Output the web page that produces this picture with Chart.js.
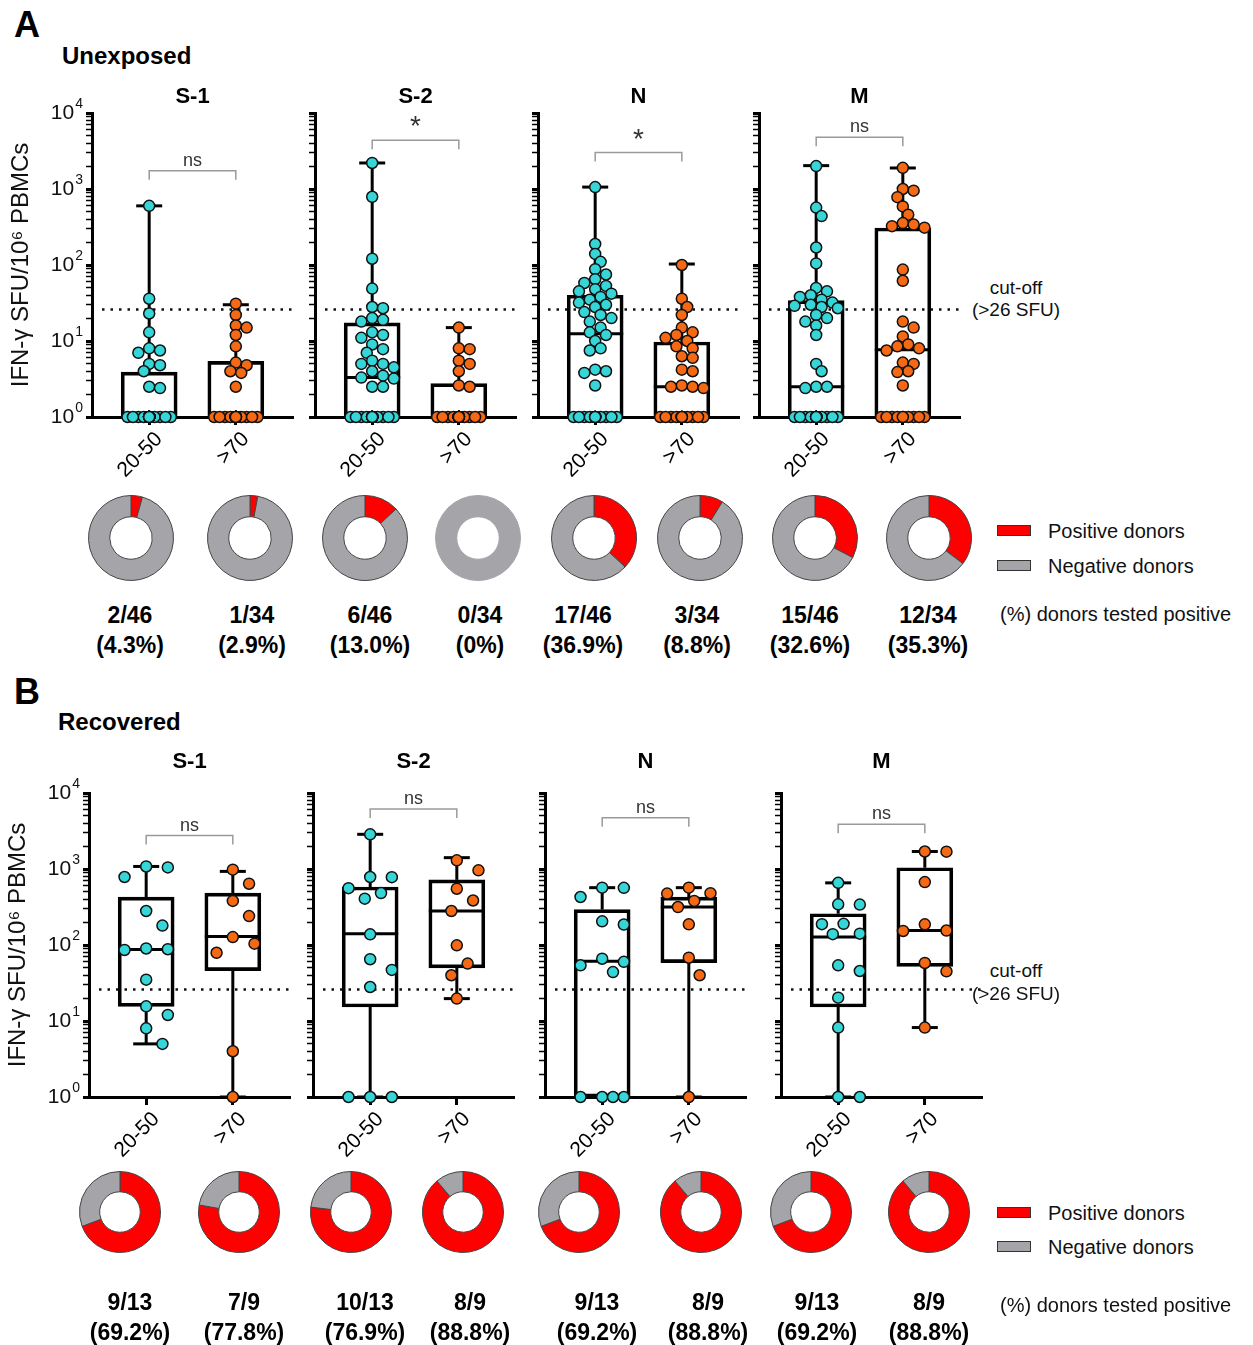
<!DOCTYPE html>
<html>
<head>
<meta charset="utf-8">
<script src="https://cdn.jsdelivr.net/npm/chart.js@4.4.1/dist/chart.umd.min.js"></script>
<style>
  html, body { margin: 0; padding: 0; background: #fff; }
  body { width: 1253px; height: 1345px; position: relative; overflow: hidden; }
  canvas { position: absolute; }
  .t { position: absolute; line-height: 1; white-space: nowrap; color: #111;
       font-family: 'Liberation Sans', Arial, sans-serif; }
  .key { position: absolute; width: 32px; height: 9px; border: 1.5px solid #333; }
</style>
</head>
<body>
<script>
const FONT = "'Liberation Sans', Arial, sans-serif";
Chart.defaults.font.family = FONT;
Chart.defaults.color = '#111';
Chart.defaults.animation = false;

// ── DATA ──────────────────────────────────────────────────────────────
const antigens = ['S-1', 'S-2', 'N', 'M'];
const ageGroups = ['20-50', '>70'];
const yDecades = [1, 10, 100, 1000, 10000];
const yDecadeExp = ['0', '1', '2', '3', '4'];
const cutOff = 26;

// A – unexposed donors, IFN-γ SFU/10^6 PBMCs (non-responders plotted at 1)
const unexS1Young = [600, 36, 23, 13, 8, 7.5, 7, 5, 4.8, 4, 2.5, 2.4,
  1, 1, 1, 1, 1, 1, 1, 1, 1, 1, 1, 1, 1, 1, 1, 1, 1, 1, 1, 1, 1, 1, 1, 1, 1, 1, 1, 1, 1, 1, 1, 1, 1, 1];
const unexS1Old = [31, 22, 16, 15, 12, 8.5, 5.2, 4.8, 4, 3.8, 2.5,
  1, 1, 1, 1, 1, 1, 1, 1, 1, 1, 1, 1, 1, 1, 1, 1, 1, 1, 1, 1, 1, 1, 1];
const unexS2Young = [2200, 790, 121, 49, 28, 27, 20, 19, 18, 13, 12, 11, 9, 7.8, 7, 5.5, 5, 5, 4.5, 4, 3.5, 3.3, 3.2, 2.5, 2.5,
  1, 1, 1, 1, 1, 1, 1, 1, 1, 1, 1, 1, 1, 1, 1, 1, 1, 1, 1, 1, 1];
const unexS2Old = [15, 8, 7.8, 5.5, 5, 4, 2.6, 2.5,
  1, 1, 1, 1, 1, 1, 1, 1, 1, 1, 1, 1, 1, 1, 1, 1, 1, 1, 1, 1, 1, 1, 1, 1, 1, 1];
const unexNYoung = [1060, 189, 140, 110, 88, 75, 65, 58, 53, 48, 45, 42, 38, 35, 32, 30, 28, 24, 22, 20, 18, 15, 13, 12, 10, 8, 7.5, 4.2, 4, 3.8, 2.6,
  1, 1, 1, 1, 1, 1, 1, 1, 1, 1, 1, 1, 1, 1, 1];
const unexNOld = [100, 36, 28, 22, 15, 13, 12, 11, 10, 8.5, 8, 6.3, 6, 4.2, 4, 2.6, 2.5, 2.5, 2.4,
  1, 1, 1, 1, 1, 1, 1, 1, 1, 1, 1, 1, 1, 1, 1];
const unexMYoung = [2000, 570, 440, 170, 105, 50, 45, 40, 38, 35, 32, 30, 29, 28, 27, 22, 20, 18, 16, 12, 5, 4, 2.5, 2.5, 2.4,
  1, 1, 1, 1, 1, 1, 1, 1, 1, 1, 1, 1, 1, 1, 1, 1, 1, 1, 1, 1, 1];
const unexMOld = [1900, 1000, 950, 780, 590, 460, 356, 340, 324, 310, 87, 62, 18, 15, 11.5, 9, 8.5, 8, 7.5, 5.2, 5, 4, 3.9, 2.6,
  1, 1, 1, 1, 1, 1, 1, 1, 1, 1];
// box stats [min, Q1, median, Q3, max] for S-1, S-2, N, M
const unexBoxYoung = [[1, 1, 1, 3.9, 600], [1, 1, 3.3, 17.3, 2200], [1, 1, 12.5, 40, 1060], [1, 1, 2.5, 34, 2030]];
const unexBoxOld = [[1, 1, 1, 5.4, 30], [1, 1, 1, 2.75, 15], [1, 1, 2.5, 9.7, 103], [1, 1, 7.7, 307, 1890]];
const unexSigLevel = [1740, 4365, 3020, 4790];
const unexSigText = ['ns', '*', '*', 'ns'];
const unexPositive = [2, 1, 6, 0, 17, 3, 15, 12];
const unexTotal = [46, 34, 46, 34, 46, 34, 46, 34];
const unexPercent = ['4.3%', '2.9%', '13.0%', '0%', '36.9%', '8.8%', '32.6%', '35.3%'];

// B – recovered donors
const recS1Young = [1080, 1050, 785, 280, 180, 90, 88, 86, 35, 15.6, 12, 8, 5];
const recS1Old = [980, 640, 380, 240, 127, 104, 79, 4, 1];
const recS2Young = [2860, 785, 780, 560, 483, 407, 138, 65, 47, 28, 1, 1, 1];
const recS2Old = [1300, 960, 550, 385, 280, 99, 57, 40, 19.7];
const recNYoung = [568, 565, 428, 205, 186, 66, 60, 54, 44, 1, 1, 1, 1];
const recNOld = [568, 480, 475, 380, 316, 187, 68, 40, 1];
const recMYoung = [657, 343, 340, 190, 188, 141, 139, 54, 45.5, 20.3, 8.2, 1, 1];
const recMOld = [1700, 1690, 673, 187, 155, 153, 58, 45, 8.2];
const recBoxYoung = [[5, 15.6, 87, 427, 1080], [1, 15.3, 141, 580, 2860], [1, 1, 61, 292, 568], [1, 15.3, 127, 258, 657]];
const recBoxOld = [[1, 46, 129, 482, 930], [19.7, 50, 280, 720, 1410], [1, 58.5, 316, 427, 568], [8.2, 52.4, 155, 1040, 1700]];
const recSigLevel = [2750, 6170, 4730, 3890];
const recSigText = ['ns', 'ns', 'ns', 'ns'];
const recPositive = [9, 7, 10, 8, 9, 8, 9, 8];
const recTotal = [13, 9, 13, 9, 13, 9, 13, 9];
const recPercent = ['69.2%', '77.8%', '76.9%', '88.8%', '69.2%', '88.8%', '69.2%', '88.8%'];

// ── LAYOUT ────────────────────────────────────────────────────────────
const CYAN = '#36d6d8', ORANGE = '#f56914', RED = '#ff0000', GREY = '#a5a4a9';
const PLOT_W = 204, PLOT_H = 304, X_AXIS_H = 75;
const PX_PER_UNIT = 88, PX_PER_DECADE = 76;

const panels = [
  {
    letter: 'A', name: 'Unexposed', letterY: 25, nameX: 62, nameY: 56,
    canvasTop: 78, plotTop: 113, titlePad: { top: 8, bottom: 5 },
    axisX: [92, 315, 538, 759], gap: 9,
    young: [unexS1Young, unexS2Young, unexNYoung, unexMYoung],
    old: [unexS1Old, unexS2Old, unexNOld, unexMOld],
    boxYoung: unexBoxYoung, boxOld: unexBoxOld,
    sigLevel: unexSigLevel, sigText: unexSigText,
    positive: unexPositive, total: unexTotal, percent: unexPercent,
    donutX: [131, 250, 365, 478, 594, 700, 815, 929], donutY: 538, donutD: 86,
    fracX: [130, 252, 370, 480, 583, 697, 810, 928], fracY: [615, 645],
    cutX: 1016, cutY: [287, 309], keyY: [531, 566], testedY: 614
  },
  {
    letter: 'B', name: 'Recovered', letterY: 692, nameX: 58, nameY: 722,
    canvasTop: 740, plotTop: 793, titlePad: { top: 11, bottom: 20 },
    axisX: [89, 313, 545, 781], gap: 20,
    young: [recS1Young, recS2Young, recNYoung, recMYoung],
    old: [recS1Old, recS2Old, recNOld, recMOld],
    boxYoung: recBoxYoung, boxOld: recBoxOld,
    sigLevel: recSigLevel, sigText: recSigText,
    positive: recPositive, total: recTotal, percent: recPercent,
    donutX: [120, 239, 351, 463, 579, 701, 811, 929], donutY: 1212, donutD: 82,
    fracX: [130, 244, 365, 470, 597, 708, 817, 929], fracY: [1302, 1332],
    cutX: 1016, cutY: [970, 993], keyY: [1213, 1247], testedY: 1305
  }
];

function put(text, x, y, css, leftAnchored) {
  const d = document.createElement('div');
  d.className = 't';
  d.textContent = text;
  d.style.cssText = css;
  d.style.left = x + 'px';
  d.style.top = y + 'px';
  d.style.transform = leftAnchored ? 'translate(0,-50%)' : 'translate(-50%,-50%)';
  document.body.appendChild(d);
}

// simple beeswarm: offsets in px, converted to x units
function swarm(values, center, gap) {
  const cands = [0, 5.5, -5.5, 11, -11, 16.5, -16.5, 22, -22];
  const placed = [];
  return values.map(v => {
    const py = PX_PER_DECADE * Math.log10(v);
    let best = 0, bestD = -1;
    for (const dx of cands) {
      let d = Infinity;
      placed.forEach(p => { d = Math.min(d, Math.hypot(p[0] - dx, p[1] - py)); });
      if (d >= gap) { best = dx; break; }
      if (d > bestD) { bestD = d; best = dx; }
    }
    placed.push([best, py]);
    return { x: center + best / PX_PER_UNIT, y: v };
  });
}

function seg(ctx, x1, y1, x2, y2) {
  ctx.beginPath(); ctx.moveTo(x1, y1); ctx.lineTo(x2, y2); ctx.stroke();
}

function boxChart(p, k) {
  const first = k === 0;
  const yw = first ? 86 : 16;
  const W = yw + PLOT_W + 4;
  const H = (p.plotTop - p.canvasTop) + PLOT_H + X_AXIS_H;
  const cv = document.createElement('canvas');
  cv.width = W; cv.height = H;
  cv.style.left = (p.axisX[k] - yw) + 'px';
  cv.style.top = p.canvasTop + 'px';
  document.body.appendChild(cv);

  const boxes = [p.boxYoung[k], p.boxOld[k]];

  const extras = {
    id: 'boxExtras',
    beforeDatasetsDraw(chart) {
      const { ctx, chartArea: a, scales: { x, y } } = chart;
      ctx.save();
      // cut-off line
      const yc = y.getPixelForValue(cutOff);
      ctx.strokeStyle = '#111'; ctx.lineWidth = 2.5; ctx.setLineDash([2.5, 6]);
      seg(ctx, a.left + 10, yc, a.right, yc);
      ctx.setLineDash([]);
      // whiskers and medians
      ctx.strokeStyle = '#000'; ctx.lineWidth = 3;
      boxes.forEach((b, i) => {
        const cx = x.getPixelForValue(i + 1);
        const [mn, q1, med, q3, mx] = b.map(v => y.getPixelForValue(v));
        if (b[4] > b[3]) { seg(ctx, cx, mx, cx, q3); seg(ctx, cx - 13, mx, cx + 13, mx); }
        if (b[0] < b[1]) { seg(ctx, cx, q1, cx, mn); seg(ctx, cx - 13, mn, cx + 13, mn); }
        if (b[2] > b[1]) seg(ctx, cx - 28, med, cx + 28, med);
      });
      // significance bracket
      const x1 = x.getPixelForValue(1), x2 = x.getPixelForValue(2);
      const yb = y.getPixelForValue(p.sigLevel[k]);
      ctx.strokeStyle = '#9a9a9a'; ctx.lineWidth = 1.5;
      ctx.beginPath();
      ctx.moveTo(x1, yb + 9); ctx.lineTo(x1, yb); ctx.lineTo(x2, yb); ctx.lineTo(x2, yb + 9);
      ctx.stroke();
      const star = p.sigText[k] === '*';
      ctx.fillStyle = '#333';
      ctx.textAlign = 'center'; ctx.textBaseline = 'alphabetic';
      ctx.font = (star ? '28px ' : '18px ') + FONT;
      ctx.fillText(p.sigText[k], (x1 + x2) / 2, yb - 5);
      ctx.restore();
    },
    afterDraw(chart) {
      if (!first) return;
      const { ctx, chartArea: a, scales: { y } } = chart;
      ctx.save();
      ctx.fillStyle = '#111'; ctx.textAlign = 'right'; ctx.textBaseline = 'middle';
      yDecades.forEach((v, i) => {
        const py = y.getPixelForValue(v);
        const right = a.left - 9;
        ctx.font = '14px ' + FONT;
        const ew = ctx.measureText(yDecadeExp[i]).width;
        ctx.fillText(yDecadeExp[i], right, py - 9);
        ctx.font = '21px ' + FONT;
        ctx.fillText('10', right - ew - 1, py);
      });
      ctx.restore();
    }
  };

  const yTicks = [];
  yDecades.slice(0, -1).forEach(d => { for (let m = 1; m < 10; m++) yTicks.push({ value: d * m }); });
  yTicks.push({ value: 10000 });

  new Chart(cv, {
    type: 'scatter',
    data: {
      datasets: [
        { type: 'scatter', data: swarm(p.young[k], 1, p.gap), backgroundColor: CYAN, borderColor: '#111',
          borderWidth: 1.5, pointRadius: 5.5, clip: false },
        { type: 'scatter', data: swarm(p.old[k], 2, p.gap), backgroundColor: ORANGE, borderColor: '#111',
          borderWidth: 1.5, pointRadius: 5.5, clip: false },
        { type: 'bar', data: boxes.map((b, i) => ({ x: i + 1, y: [b[1], b[3]] })),
          backgroundColor: 'rgba(255,255,255,0)', borderColor: '#000', borderWidth: 3,
          borderSkipped: false, barThickness: 56, grouped: false }
      ]
    },
    options: {
      responsive: false,
      events: [],
      layout: { padding: { left: 0, right: 4, top: 0, bottom: 0 } },
      plugins: {
        legend: { display: false },
        tooltip: { enabled: false },
        title: { display: true, text: antigens[k], fullSize: false, color: '#000',
                 font: { size: 22, weight: 'bold', lineHeight: 1 }, padding: p.titlePad }
      },
      scales: {
        x: {
          type: 'linear', min: 0.34, max: 2.66, bounds: 'data', offset: false,
          afterBuildTicks: s => { s.ticks = [{ value: 1 }, { value: 2 }]; },
          afterFit: s => { s.height = X_AXIS_H; s.paddingLeft = 0; s.paddingRight = 0; },
          ticks: { autoSkip: false, minRotation: 45, maxRotation: 45, padding: 2, labelOffset: 10,
                   color: '#000', font: { size: 21 }, callback: v => ageGroups[v - 1] },
          grid: { display: true, offset: false, drawOnChartArea: false, drawTicks: true, tickLength: 8,
                  tickWidth: 3, tickColor: '#000' },
          border: { display: true, color: '#000', width: 3 }
        },
        y: {
          type: 'logarithmic', min: 1, max: 10000,
          afterBuildTicks: s => { s.ticks = yTicks.map(t => ({ value: t.value })); },
          afterFit: s => { s.width = yw; s.paddingTop = 0; s.paddingBottom = 0; },
          ticks: { display: false },
          grid: { display: true, drawOnChartArea: false, drawTicks: true, tickLength: 6, tickColor: '#000',
                  tickWidth: c => (Math.log10(c.tick.value) % 1 === 0 ? 3 : 1.5) },
          border: { display: true, color: '#000', width: 3 },
          title: { display: first, text: 'IFN-γ SFU/10⁶ PBMCs', color: '#111',
                   font: { size: 24, lineHeight: 1 }, padding: { top: 3, bottom: 0 } }
        }
      }
    },
    plugins: [extras]
  });
}

function donut(cx, cy, d, pos, total) {
  const S = d + 4;
  const cv = document.createElement('canvas');
  cv.width = S; cv.height = S;
  cv.style.left = (cx - S / 2) + 'px';
  cv.style.top = (cy - S / 2) + 'px';
  document.body.appendChild(cv);
  new Chart(cv, {
    type: 'doughnut',
    data: {
      labels: ['Positive donors', 'Negative donors'],
      datasets: [{ data: [pos, total - pos], backgroundColor: [RED, GREY],
                   // a single full-ring slice would show its seam, so drop its outline
                   borderColor: c => (c.raw === total ? GREY : '#444'),
                   borderWidth: c => (c.raw === 0 ? 0 : 1) }]
    },
    options: {
      responsive: false, events: [], cutout: '50%',
      layout: { padding: 2 },
      plugins: { legend: { display: false }, tooltip: { enabled: false } }
    }
  });
}

panels.forEach(p => {
  put(p.letter, 14, p.letterY, 'font-size:36px;font-weight:bold;color:#000;', true);
  put(p.name, p.nameX, p.nameY, 'font-size:24px;font-weight:bold;color:#000;', true);
  antigens.forEach((_, k) => boxChart(p, k));

  put('cut-off', p.cutX, p.cutY[0], 'font-size:19px;');
  put('(>26 SFU)', p.cutX, p.cutY[1], 'font-size:19px;');

  p.positive.forEach((pos, i) => {
    donut(p.donutX[i], p.donutY, p.donutD, pos, p.total[i]);
    put(pos + '/' + p.total[i], p.fracX[i], p.fracY[0], 'font-size:23px;font-weight:bold;color:#000;');
    put('(' + p.percent[i] + ')', p.fracX[i], p.fracY[1], 'font-size:23px;font-weight:bold;color:#000;');
  });

  // legend
  [[RED, 'Positive donors'], [GREY, 'Negative donors']].forEach(([c, label], j) => {
    const k = document.createElement('div');
    k.className = 'key';
    k.style.left = '997px';
    k.style.top = (p.keyY[j] - 6) + 'px';
    k.style.background = c;
    document.body.appendChild(k);
    put(label, 1048, p.keyY[j], 'font-size:20px;', true);
  });
  put('(%) donors tested positive', 1000, p.testedY, 'font-size:20px;', true);
});
</script>
</body>
</html>
